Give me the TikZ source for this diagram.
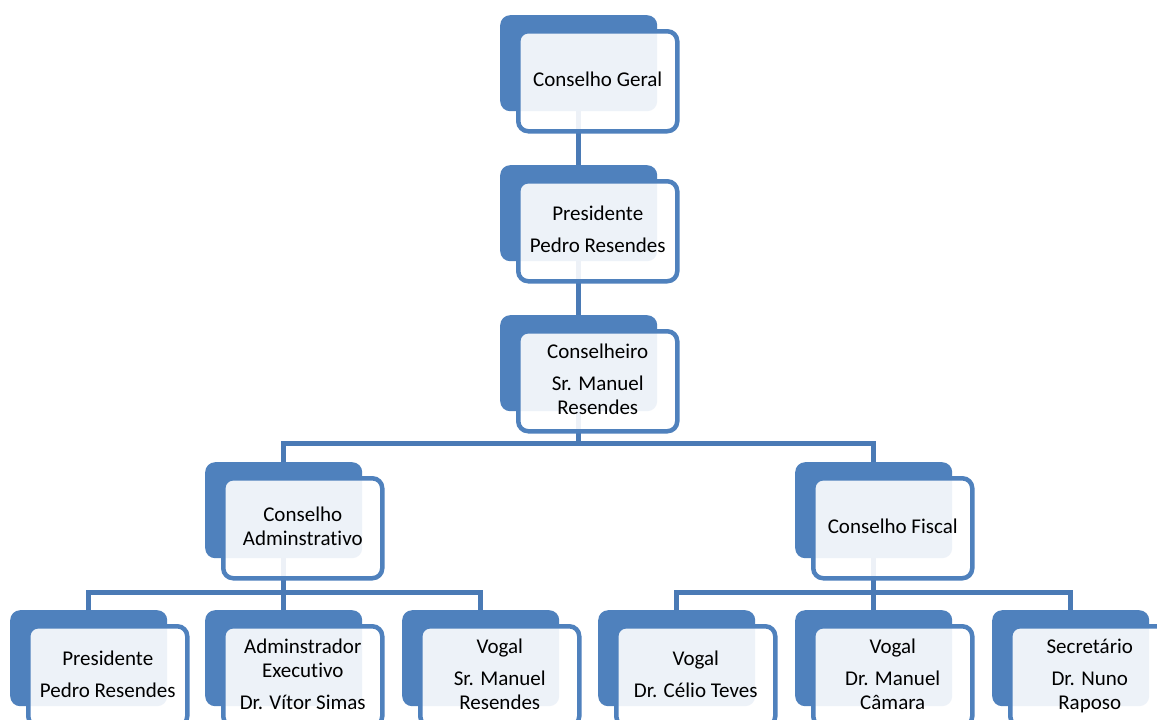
\documentclass[tikz,border=0pt]{standalone}
\usepackage{fontspec}
\setmainfont{Carlito}[Ligatures={NoCommon}]
\definecolor{boxblue}{HTML}{4F81BD}
\definecolor{connblue}{HTML}{4A7AB5}
\tikzset{
  backbox/.style={anchor=north west, fill=boxblue, rounded corners=10pt,
    minimum width=157pt, minimum height=96pt, inner sep=0pt},
  frontbox/.style={anchor=north west, draw=boxblue, line width=4.5pt, fill=white,
    fill opacity=0.9, text opacity=1, rounded corners=10pt,
    minimum width=159pt, minimum height=100pt, inner sep=0pt, align=center,
    font=\fontsize{21}{24}\selectfont},
  connline/.style={draw=connblue, line width=5pt}
}
\newcommand{\backunit}[3]{\node[backbox] (#1-b) at (#2,#3) {};}
\newcommand{\frontunit}[4]{\node[frontbox] (#1-f) at (#2+16,#3+14) {#4\\[-20pt]};}
\begin{document}
\begin{tikzpicture}[x=1pt,y=-1pt]
\clip (0,0) rectangle (1157,720);
\fill[white] (0,0) rectangle (1157,720);
% back boxes
\backunit{cg}{500}{15}
\backunit{pr}{500}{165}
\backunit{co}{500}{315}
\backunit{ca}{205}{462}
\backunit{cf}{795}{462}
\backunit{ba}{10}{610}
\backunit{bb}{205}{610}
\backunit{bc}{402}{610}
\backunit{bd}{598}{610}
\backunit{be}{795}{610}
\backunit{bf}{992}{610}
% connectors
\draw[connline] (cg-b.south) -- (pr-b.north);
\draw[connline] (pr-b.south) -- (co-b.north);
\draw[connline] (co-b.south) -- ++(0,32) coordinate (bus1);
\draw[connline] (ca-b.north) |- (bus1) -| (cf-b.north);
\draw[connline] (ca-b.south) -- ++(0,34) coordinate (bus2);
\draw[connline] (ba-b.north) |- (bus2) -| (bc-b.north);
\draw[connline] (bus2) -- (bb-b.north);
\draw[connline] (cf-b.south) -- ++(0,34) coordinate (bus3);
\draw[connline] (bd-b.north) |- (bus3) -| (bf-b.north);
\draw[connline] (bus3) -- (be-b.north);
% front boxes
\frontunit{cg}{500}{15}{Conselho Geral}
\frontunit{pr}{500}{165}{Presidente\\[8pt]Pedro Resendes}
\frontunit{co}{500}{315}{Conselheiro\\[8pt]Sr. Manuel\\Resendes}
\frontunit{ca}{205}{462}{Conselho\\Adminstrativo}
\frontunit{cf}{795}{462}{Conselho Fiscal}
\frontunit{ba}{10}{610}{Presidente\\[8pt]Pedro Resendes}
\frontunit{bb}{205}{610}{Adminstrador\\Executivo\\[8pt]Dr. Vítor Simas}
\frontunit{bc}{402}{610}{Vogal\\[8pt]Sr. Manuel\\Resendes}
\frontunit{bd}{598}{610}{Vogal\\[8pt]Dr. Célio Teves}
\frontunit{be}{795}{610}{Vogal\\[8pt]Dr. Manuel\\Câmara}
\frontunit{bf}{992}{610}{Secretário\\[8pt]Dr. Nuno\\Raposo}
\end{tikzpicture}
\end{document}
